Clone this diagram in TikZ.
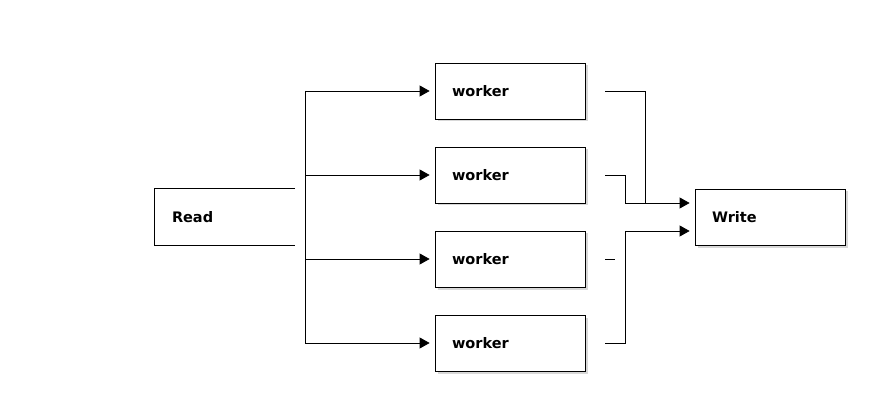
\documentclass[tikz,border=0pt]{standalone}
\usepackage{fontspec}
\setmainfont{DejaVu Sans}
\usetikzlibrary{positioning, arrows.meta, shadows}

\tikzset{
  box/.style={rectangle, draw, line width=0.8pt, fill=white, inner xsep=17pt,
    text width=116pt, minimum height=56pt, align=left,
    font=\fontsize{14.5}{17}\selectfont\bfseries,
    drop shadow={shadow xshift=2.5pt, shadow yshift=-2.5pt, fill=black!30}},
  openbox/.style={rectangle, inner xsep=17pt, text width=106pt,
    minimum height=56pt, align=left, font=\fontsize{14.5}{17}\selectfont\bfseries},
  link/.style={line width=0.8pt},
  arr/.style={line width=0.8pt, -{Triangle[length=10pt,width=11pt]}, shorten >=5pt}
}

\begin{document}
\begin{tikzpicture}[x=1pt, y=-1pt, node distance=84pt, on grid]
    \useasboundingbox (0,0) rectangle (870,406);

    \node [openbox] (read) at (225,217) {Read};
    \node [box] (w1) at (510,91) {worker};
    \node [box, below=of w1] (w2) {worker};
    \node [box, below=of w2] (w3) {worker};
    \node [box, below=of w3] (w4) {worker};
    \node [box] (write) at (770,217) {Write};

    % read box has no right side
    \draw[link] (read.north east) -- (read.north west) -- (read.south west) -- (read.south east);

    % fork to the workers
    \coordinate (fork1) at (305,91);
    \coordinate (fork4) at (fork1 |- w4.west);
    \draw[link] (fork1) -- (fork4);
    \draw[arr] (fork1) -- (w1.west);
    \draw[arr] (fork1 |- w2.west) -- (w2.west);
    \draw[arr] (fork1 |- w3.west) -- (w3.west);
    \draw[arr] (fork4) -- (w4.west);

    % workers to write
    \coordinate (out1) at ([xshift=20pt]w1.east);
    \coordinate (out2) at ([xshift=20pt]w2.east);
    \coordinate (out3) at ([xshift=20pt]w3.east);
    \coordinate (out4) at ([xshift=20pt]w4.east);
    \coordinate (in1) at ([yshift=14pt]write.west);
    \coordinate (in2) at ([yshift=-14pt]write.west);

    \draw[arr] (out1) -- ([xshift=40pt]out1) |- (in1);
    \draw[link] (out2) -- ([xshift=20pt]out2) |- ([xshift=40pt]out2 |- in1);
    \draw[link] (out3) -- ([xshift=10pt]out3);
    \draw[arr] (out4) -- ([xshift=20pt]out4) |- (in2);
\end{tikzpicture}
\end{document}
